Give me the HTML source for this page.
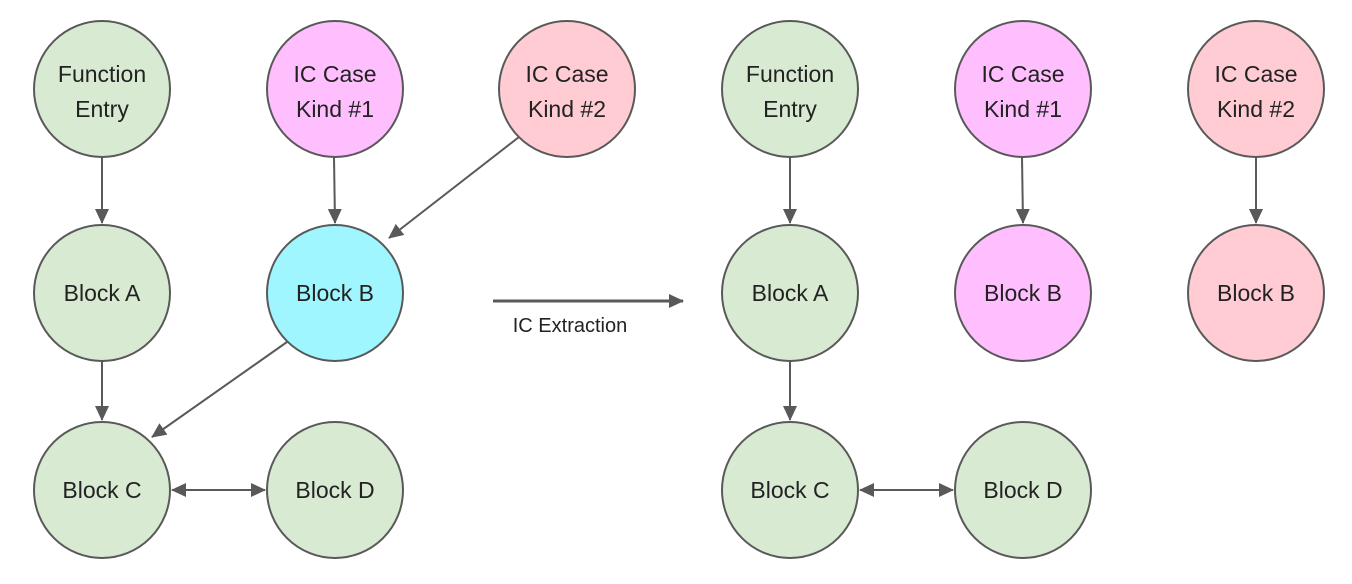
<!DOCTYPE html>
<html><head><style>body{margin:0;background:#fff}svg{display:block}</style></head><body>
<svg width="1352" height="584" viewBox="0 0 1352 584" xmlns="http://www.w3.org/2000/svg" font-family="'Liberation Sans',sans-serif">
<defs><marker id="a" markerWidth="15" markerHeight="14" refX="14" refY="7" orient="auto" markerUnits="userSpaceOnUse"><path d="M0,0 L15,7 L0,14 z" fill="#595959"/></marker>
<marker id="s" markerWidth="15" markerHeight="14" refX="1" refY="7" orient="auto" markerUnits="userSpaceOnUse"><path d="M15,0 L0,7 L15,14 z" fill="#595959"/></marker></defs>
<g stroke="#595959" stroke-width="2">
<circle cx="102" cy="89" r="68" fill="#d9ead3"/>
<circle cx="335" cy="89" r="68" fill="#ffbfff"/>
<circle cx="567" cy="89" r="68" fill="#ffccd4"/>
<circle cx="102" cy="293" r="68" fill="#d9ead3"/>
<circle cx="335" cy="293" r="68" fill="#a0f6fe"/>
<circle cx="102" cy="490" r="68" fill="#d9ead3"/>
<circle cx="335" cy="490" r="68" fill="#d9ead3"/>
<circle cx="790" cy="89" r="68" fill="#d9ead3"/>
<circle cx="1023" cy="89" r="68" fill="#ffbfff"/>
<circle cx="1256" cy="89" r="68" fill="#ffccd4"/>
<circle cx="790" cy="293" r="68" fill="#d9ead3"/>
<circle cx="1023" cy="293" r="68" fill="#ffbfff"/>
<circle cx="1256" cy="293" r="68" fill="#ffccd4"/>
<circle cx="790" cy="490" r="68" fill="#d9ead3"/>
<circle cx="1023" cy="490" r="68" fill="#d9ead3"/>
<line x1="102" y1="157" x2="102" y2="223" marker-end="url(#a)"/>
<line x1="334" y1="157" x2="335" y2="223" marker-end="url(#a)"/>
<line x1="519" y1="137" x2="389" y2="238" marker-end="url(#a)"/>
<line x1="102" y1="361" x2="102" y2="420" marker-end="url(#a)"/>
<line x1="287" y1="342" x2="152" y2="437" marker-end="url(#a)"/>
<line x1="172" y1="490" x2="265" y2="490" marker-end="url(#a)" marker-start="url(#s)"/>
<line x1="790" y1="157" x2="790" y2="223" marker-end="url(#a)"/>
<line x1="1022" y1="157" x2="1023" y2="223" marker-end="url(#a)"/>
<line x1="1256" y1="157" x2="1256" y2="223" marker-end="url(#a)"/>
<line x1="790" y1="361" x2="790" y2="420" marker-end="url(#a)"/>
<line x1="860" y1="490" x2="953" y2="490" marker-end="url(#a)" marker-start="url(#s)"/>
<line x1="493" y1="301" x2="683" y2="301" stroke-width="3" marker-end="url(#a)"/>
</g>
<g font-size="23" fill="#222" text-anchor="middle">
<text x="102" y="82">Function</text><text x="102" y="117">Entry</text>
<text x="335" y="82">IC Case</text><text x="335" y="117">Kind #1</text>
<text x="567" y="82">IC Case</text><text x="567" y="117">Kind #2</text>
<text x="102" y="301">Block A</text><text x="335" y="301">Block B</text>
<text x="102" y="498">Block C</text><text x="335" y="498">Block D</text>
<text x="790" y="82">Function</text><text x="790" y="117">Entry</text>
<text x="1023" y="82">IC Case</text><text x="1023" y="117">Kind #1</text>
<text x="1256" y="82">IC Case</text><text x="1256" y="117">Kind #2</text>
<text x="790" y="301">Block A</text><text x="1023" y="301">Block B</text><text x="1256" y="301">Block B</text>
<text x="790" y="498">Block C</text><text x="1023" y="498">Block D</text>
<text x="570" y="332" font-size="20">IC Extraction</text>
</g>
</svg>
</body></html>
